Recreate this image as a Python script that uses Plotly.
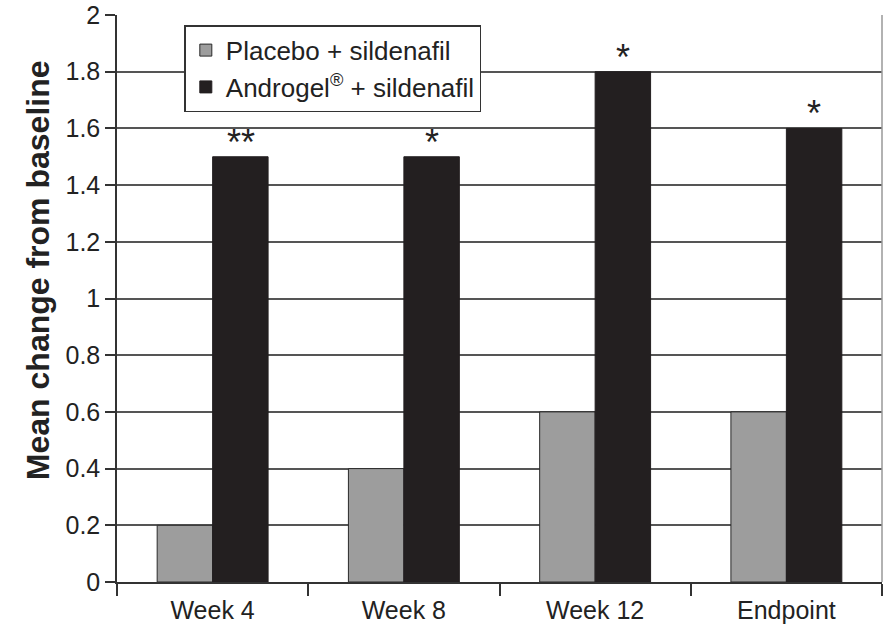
import plotly.graph_objects as go

categories = ["Week 4", "Week 8", "Week 12", "Endpoint"]
placebo = [0.2, 0.4, 0.6, 0.6]
androgel = [1.5, 1.5, 1.8, 1.6]
significance = ["**", "*", "*", "*"]
y_ticks = [0, 0.2, 0.4, 0.6, 0.8, 1, 1.2, 1.4, 1.6, 1.8, 2]

font_family = "Liberation Sans, Arial, sans-serif"

fig = go.Figure()
fig.add_trace(go.Bar(
    x=categories, y=placebo, name="Placebo + sildenafil",
    legendgroup="placebo",
    marker=dict(color="#9d9d9d", line=dict(color="#2a2a2a", width=1)),
))
fig.add_trace(go.Bar(
    x=categories, y=androgel, name="Androgel<sup>®</sup> + sildenafil",
    legendgroup="androgel",
    marker=dict(color="#231f20", line=dict(color="#231f20", width=1)),
))

# significance markers above the Androgel bars
for cat, val, mark in zip(categories, androgel, significance):
    fig.add_annotation(
        x=cat, y=val, text=mark, showarrow=False,
        xshift=28, yanchor="bottom", yshift=-8,
        font=dict(size=36, color="#222", family=font_family),
    )

# y-axis title
fig.add_annotation(
    x=0, xref="paper", xanchor="center", xshift=-79,
    y=0.55, yref="paper", yanchor="middle",
    text="<b>Mean change from baseline</b>", textangle=-90,
    showarrow=False, font=dict(size=32, color="#222", family=font_family),
)

fig.update_layout(
    width=888, height=637,
    margin=dict(l=117, r=6, t=15, b=55),
    paper_bgcolor="white", plot_bgcolor="white",
    barmode="group", bargap=0.42, bargroupgap=0,
    font=dict(family=font_family, color="#222"),
    showlegend=True,
    legend=dict(
        x=0.088, y=0.982, xanchor="left", yanchor="top",
        bgcolor="white", bordercolor="#333", borderwidth=1.5,
        font=dict(size=26, color="#222"),
        itemwidth=30, tracegroupgap=8, traceorder="normal",
    ),
    xaxis=dict(
        type="category", tickson="boundaries", ticks="outside",
        ticklen=12, tickwidth=1.5, tickcolor="#333",
        showline=True, linecolor="#333", linewidth=1.5,
        showgrid=False, tickfont=dict(size=25, color="#222"),
        ticklabelstandoff=5, automargin=False,
    ),
    yaxis=dict(
        range=[0, 2], tickvals=y_ticks,
        ticktext=[f"{v:g}" for v in y_ticks],
        ticks="outside", ticklen=10, tickwidth=1.5, tickcolor="#333",
        showline=True, linecolor="#333", linewidth=1.5,
        showgrid=True, gridcolor="#555", gridwidth=1.5,
        zeroline=False, automargin=False,
        tickfont=dict(size=25, color="#222"),
    ),
    shapes=[dict(type="line", xref="paper", yref="paper",
                 x0=1, x1=1, y0=0, y1=1,
                 line=dict(color="#999", width=1.5))],
)

fig.write_html("out.html")
